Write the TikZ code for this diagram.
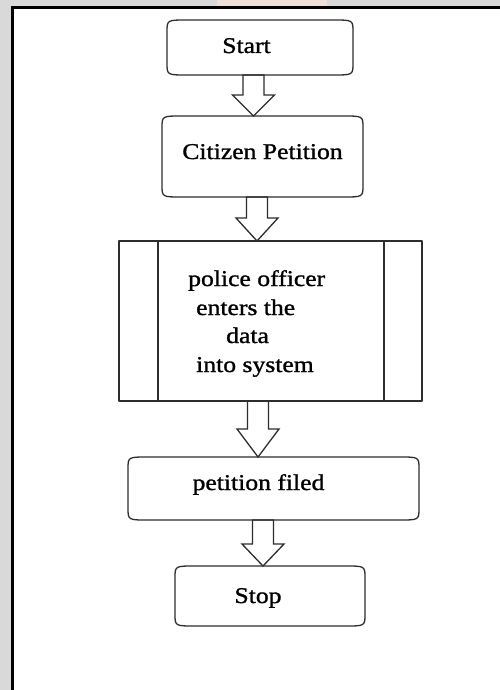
\documentclass[tikz,border=0pt]{standalone}
\usepackage{fontspec}
\setmainfont{Liberation Serif}[FakeStretch=1.14, FakeBold=1.2]
\usetikzlibrary{calc}
\definecolor{pagegray}{RGB}{217,217,217}
\definecolor{peachwash}{RGB}{240,224,216}
\definecolor{outline}{RGB}{45,45,45}
\tikzset{
  boxline/.style={draw=outline, line width=1.3pt, line join=round},
  arrowline/.style={draw=outline, line width=1.3pt, line join=miter},
  termbox/.style={draw=none, inner sep=0pt, outer sep=0pt},
  procbox/.style={boxline, inner sep=0pt, outer sep=0pt},
  lbl/.style={inner sep=0pt, font=\fontsize{22.5}{29}\selectfont},
}
% outline of a terminator box with soft, flattened corners
\newcommand\termoutline[1]{%
  \draw[boxline]
    ([xshift=20pt]#1.north west) -- ([xshift=-20pt]#1.north east)
      .. controls (#1.north east) .. ([yshift=-12pt]#1.north east)
    -- ([yshift=12pt]#1.south east)
      .. controls (#1.south east) .. ([xshift=-20pt]#1.south east)
    -- ([xshift=20pt]#1.south west)
      .. controls (#1.south west) .. ([yshift=12pt]#1.south west)
    -- ([yshift=-12pt]#1.north west)
      .. controls (#1.north west) .. cycle;}
% block arrow from the bottom of #1 to the top of #2 (tip shifted by #3, head length #4)
\newcommand\hollowarrow[4]{%
  \draw[arrowline] let \p1=(#1.south), \p2=([xshift=#3]#2.north) in
    (\x2-10.5pt,\y1) -- (\x2-10.5pt,\y2+#4) -- (\x2-21pt,\y2+#4) -- (\x2,\y2)
    -- (\x2+21pt,\y2+#4) -- (\x2+10.5pt,\y2+#4) -- (\x2+10.5pt,\y1) -- cycle;}
\begin{document}
\begin{tikzpicture}[x=1pt,y=-1pt]
  \useasboundingbox (0,0) rectangle (500,690);
  % page background and frame
  \fill[pagegray] (0,0) rectangle (500,690);
  \fill[peachwash] (217,0) rectangle (327,6);
  \fill[white] (12.5,7.5) rectangle (500,690);
  \draw[black, line width=3pt] (12.5,690) -- (12.5,7.5) -- (500,7.5);

  % boxes
  \node[termbox, minimum width=186pt, minimum height=55pt] (start) at (260,47.5) {};
  \node[termbox, minimum width=201pt, minimum height=81pt] (citizen) at (262.5,156.5) {};
  \node[procbox, minimum width=303pt, minimum height=160pt] (officer) at (270.5,321) {};
  \node[termbox, minimum width=291pt, minimum height=63pt] (filed) at (273.5,488.5) {};
  \node[termbox, minimum width=190pt, minimum height=60pt] (stop) at (270,596) {};

  \termoutline{start}
  \termoutline{citizen}
  \termoutline{filed}
  \termoutline{stop}
  \draw[boxline] ([xshift=39pt]officer.north west) -- ([xshift=39pt]officer.south west);
  \draw[boxline] ([xshift=-38pt]officer.north east) -- ([xshift=-38pt]officer.south east);

  % labels
  \node[lbl, anchor=base] (startlbl) at (246.5,53) {Start};
  \node[lbl, anchor=base] (citizenlbl) at (262.5,159) {Citizen Petition};
  \node[lbl, anchor=base west] (offa) at (188,286) {police officer};
  \node[lbl, anchor=base west] (offb) at (196,315) {enters the};
  \node[lbl, anchor=base west] (offc) at (226,343) {data};
  \node[lbl, anchor=base west] (offd) at (196,372) {into system};
  \node[lbl, anchor=base] (filedlbl) at (258.5,490) {petition filed};
  \node[lbl, anchor=base] (stoplbl) at (258,603) {Stop};

  % connectors
  \hollowarrow{start}{citizen}{-9pt}{21pt}
  \hollowarrow{citizen}{officer}{-13.5pt}{23pt}
  \hollowarrow{officer}{filed}{-15.5pt}{28pt}
  \hollowarrow{filed}{stop}{-7pt}{22pt}
\end{tikzpicture}
\end{document}
